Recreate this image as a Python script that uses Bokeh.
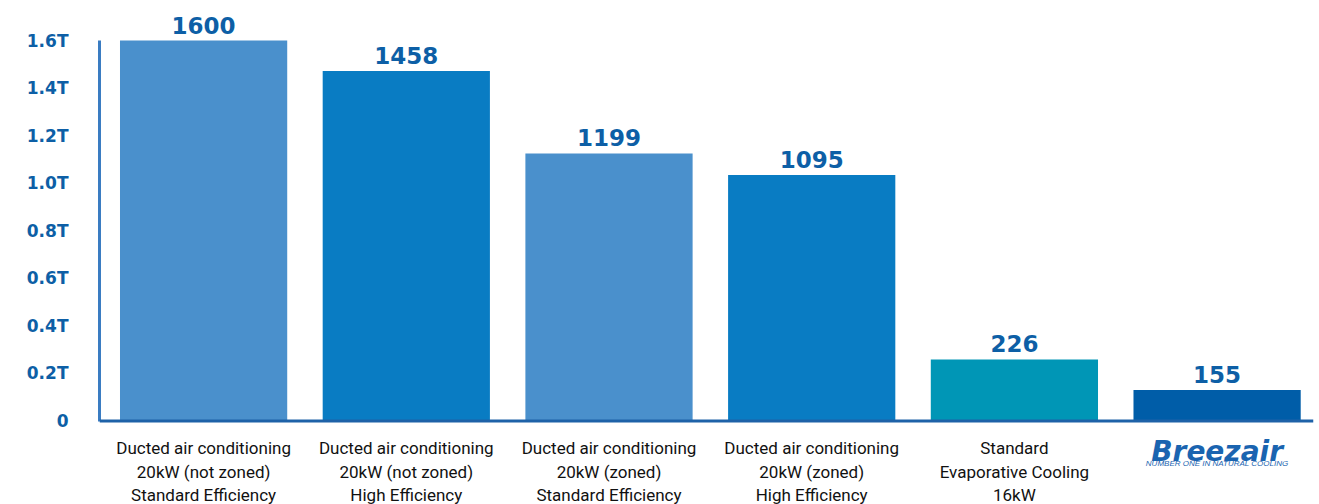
from bokeh.plotting import figure
from bokeh.models import Range1d, FixedTicker, ColumnDataSource, LabelSet, Label, Span
from bokeh.core.properties import value
from bokeh.embed import file_html
from bokeh.resources import INLINE

# ---- data ----
categories = [
    "Ducted air conditioning\n20kW (not zoned)\nStandard Efficiency",
    "Ducted air conditioning\n20kW (not zoned)\nHigh Efficiency",
    "Ducted air conditioning\n20kW (zoned)\nStandard Efficiency",
    "Ducted air conditioning\n20kW (zoned)\nHigh Efficiency",
    "Standard\nEvaporative Cooling\n16kW",
    "",
]
bar_heights = [1600, 1472, 1125, 1034, 259, 130]
value_labels = ["1600", "1458", "1199", "1095", "226", "155"]
bar_colors = ["#4A90CC", "#097CC3", "#4A90CC", "#097CC3", "#0096B6", "#005DA8"]
y_ticks = [0, 200, 400, 600, 800, 1000, 1200, 1400, 1600]
y_tick_labels = ["0", "0.2T", "0.4T", "0.6T", "0.8T", "1.0T", "1.2T", "1.4T", "1.6T"]
logo_text = "Breezair"
logo_tagline = "NUMBER ONE IN NATURAL COOLING"

x_pos = [i + 0.5 for i in range(len(categories))]

p = figure(width=1319, height=504, output_backend="svg", toolbar_location=None,
           x_range=Range1d(-0.0136, 5.9756), y_range=Range1d(-351.1, 1768.2),
           min_border_left=99, min_border_right=6, min_border_top=0, min_border_bottom=0)
p.outline_line_color = None
p.background_fill_color = "white"
p.border_fill_color = "white"
p.xgrid.grid_line_color = None
p.ygrid.grid_line_color = None
p.xaxis.visible = False

src = ColumnDataSource(dict(x=x_pos, top=bar_heights, color=bar_colors, label=value_labels))
p.vbar(x="x", top="top", bottom=0, width=0.825, fill_color="color", line_color=None, source=src)

# y axis
p.yaxis.ticker = FixedTicker(ticks=y_ticks)
p.yaxis.bounds = (0, 1600)
p.yaxis.major_label_overrides = {t: l for t, l in zip(y_ticks, y_tick_labels)}
p.yaxis.major_label_text_font = "DejaVu Sans"
p.yaxis.major_label_text_font_style = "bold"
p.yaxis.major_label_text_font_size = "17px"
p.yaxis.major_label_text_color = "#0D5FA6"
p.yaxis.major_label_standoff = 25
p.yaxis.axis_line_color = "#3A7CC2"
p.yaxis.axis_line_width = 3
p.yaxis.major_tick_line_color = None
p.yaxis.minor_tick_line_color = None

# baseline (x axis line)
p.add_layout(Span(location=0, dimension="width", line_color="#1E62A8", line_width=3))

# value labels above bars
p.add_layout(LabelSet(x="x", y="top", text="label", source=src, text_align="center",
                      text_baseline="alphabetic", y_offset=7,
                      text_font=value("DejaVu Sans"), text_font_style="bold",
                      text_font_size="23px", text_color="#0D5FA6"))

# category labels (one LabelSet per line)
lines = [c.split("\n") if c else [] for c in categories]
offsets = [-33, -56.5, -80]
for k in range(3):
    xs, ts = [], []
    for xp, ls in zip(x_pos, lines):
        if k < len(ls):
            xs.append(xp)
            ts.append(ls[k])
    lsrc = ColumnDataSource(dict(x=xs, y=[0] * len(xs), t=ts))
    p.add_layout(LabelSet(x="x", y="y", text="t", source=lsrc, text_align="center",
                          text_baseline="alphabetic", y_offset=offsets[k],
                          text_font=value("Roboto"), text_font_style="normal",
                          text_font_size="17px", text_color="#111111"))

# logo under the last bar
p.add_layout(Label(x=x_pos[-1], y=0, y_offset=-30, text=logo_text, text_align="center",
                   text_baseline="alphabetic", text_font="DejaVu Sans",
                   text_font_style="bold italic", text_font_size="28px", text_color="#1A64B0"))
p.add_layout(Label(x=x_pos[-1], y=0, y_offset=-42, text=logo_tagline, text_align="center",
                   text_baseline="alphabetic", text_font="Liberation Sans",
                   text_font_style="italic", text_font_size="8px", text_color="#1A64B0"))

open("out.html", "w").write(file_html(p, INLINE))
